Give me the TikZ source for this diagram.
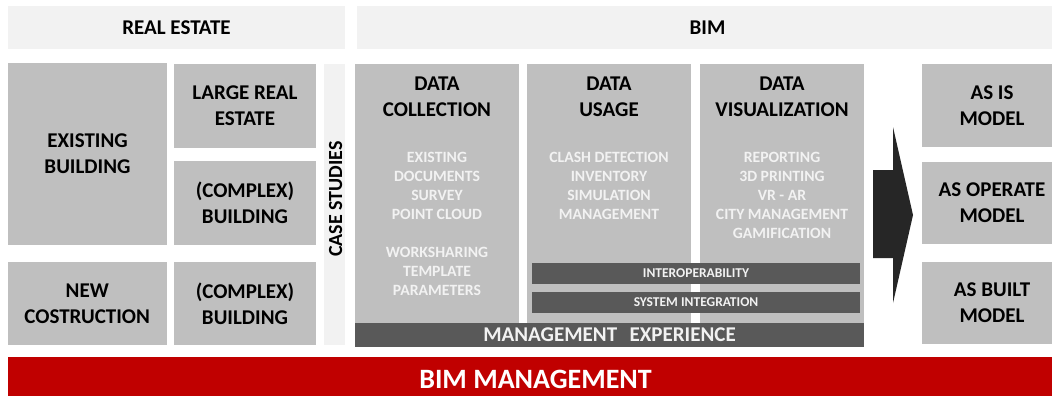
\documentclass[tikz,border=0pt]{standalone}
\usepackage{fontspec}
\setmainfont{Carlito}
\definecolor{boxgray}{HTML}{BFBFBF}
\definecolor{hdrgray}{HTML}{F2F2F2}
\definecolor{bardark}{HTML}{595959}
\definecolor{arrowdark}{HTML}{262626}
\definecolor{bimred}{HTML}{C00000}
\definecolor{itemtxt}{HTML}{F2F2F2}
\newcommand\fBig{\fontsize{21}{26}\selectfont\bfseries}
\newcommand\fItem{\fontsize{15.7}{19}\selectfont\bfseries}
\newcommand\fBar{\fontsize{13.5}{16}\selectfont\bfseries}
\newcommand\fHuge{\fontsize{28}{34}\selectfont\bfseries}
\begin{document}
\begin{tikzpicture}[x=1pt,y=-1pt,
  blk/.style={rectangle,inner sep=0pt,outer sep=0pt,align=center,draw=none},
  hdr/.style={blk,fill=hdrgray,font=\fBig,text=black},
  gbox/.style={blk,fill=boxgray,font=\fBig,text=black},
  coltitle/.style={blk,anchor=north,font=\fBig,text=black},
  colitems/.style={blk,anchor=north,font=\fItem,text=itemtxt},
  darkbar/.style={blk,fill=bardark,font=\fBar,text=itemtxt},
  txt/.style={blk}]
\useasboundingbox (0,0) rectangle (1052,396);
\clip (0,0) rectangle (1052,396);
\fill[white] (0,0) rectangle (1052,396);
% headers
\node[hdr,minimum width=337pt,minimum height=43pt] (reh) at (176.5,27.5) {REAL ESTATE};
\node[hdr,minimum width=701pt,minimum height=43pt] (bimh) at (707.5,27.5) {BIM};
% real estate boxes
\node[gbox,minimum width=159pt,minimum height=182pt] (exist) at (87.5,154) {EXISTING\\BUILDING};
\node[gbox,minimum width=142pt,minimum height=84pt] (large) at (245,106) {LARGE REAL\\ESTATE};
\node[gbox,minimum width=142pt,minimum height=84pt] (cplxa) at (245,203) {(COMPLEX)\\BUILDING};
\node[gbox,minimum width=159.5pt,minimum height=83pt] (newc) at (87.25,303.5) {NEW\\COSTRUCTION};
\node[gbox,minimum width=142pt,minimum height=83pt] (cplxb) at (245,303.5) {(COMPLEX)\\BUILDING};
% case studies strip
\node[blk,fill=hdrgray,minimum width=21pt,minimum height=280.5pt] (case) at (334.5,204.25) {};
\node[txt,rotate=90,font=\fontsize{20}{24}\selectfont\bfseries,text=black] (casetxt) at (335.7,199) {CASE STUDIES};
% BIM columns
\node[gbox,minimum width=164pt,minimum height=259pt] (dc) at (437,193.5) {};
\node[gbox,minimum width=164pt,minimum height=259pt] (du) at (609,193.5) {};
\node[gbox,minimum width=164pt,minimum height=259pt] (dv) at (782,193.5) {};
\node[coltitle] (dct) at (437,77.2) {DATA\\COLLECTION};
\node[coltitle] (dut) at (609,77.2) {DATA\\USAGE};
\node[coltitle] (dvt) at (782,77.2) {DATA\\VISUALIZATION};
\node[colitems] (dci) at (437,152.6) {EXISTING\\DOCUMENTS\\SURVEY\\POINT CLOUD\\[19pt]WORKSHARING\\TEMPLATE\\PARAMETERS};
\node[colitems] (dui) at (609,152.6) {CLASH DETECTION\\INVENTORY\\SIMULATION\\MANAGEMENT};
\node[colitems] (dvi) at (782,152.6) {REPORTING\\3D PRINTING\\VR - AR\\CITY MANAGEMENT\\GAMIFICATION};
% bars
\node[darkbar,minimum width=328pt,minimum height=21pt] (interop) at (696,273) {INTEROPERABILITY};
\node[darkbar,minimum width=328pt,minimum height=21pt] (sysint) at (696,302.5) {SYSTEM INTEGRATION};
\node[darkbar,font=\fBig,minimum width=509pt,minimum height=24pt] (mgmt) at (609.5,335) {MANAGEMENT\hspace{12.5pt}EXPERIENCE};
% arrow
\fill[arrowdark] (873,170) -- (893,170) -- (893,127) -- (913,215) -- (893,303) -- (893,258) -- (873,258) -- cycle;
% models
\node[gbox,minimum width=140pt,minimum height=83pt] (asis) at (992,105.5) {AS IS\\MODEL};
\node[gbox,minimum width=140pt,minimum height=82pt] (asop) at (992,203) {AS OPERATE\\MODEL};
\node[gbox,minimum width=140pt,minimum height=82pt] (asbu) at (992,303) {AS BUILT\\MODEL};
% bim management
\node[blk,fill=bimred,font=\fHuge,text=white,minimum width=1055pt,minimum height=44pt] (bimm) at (535.5,379) {BIM MANAGEMENT};
\end{tikzpicture}
\end{document}
